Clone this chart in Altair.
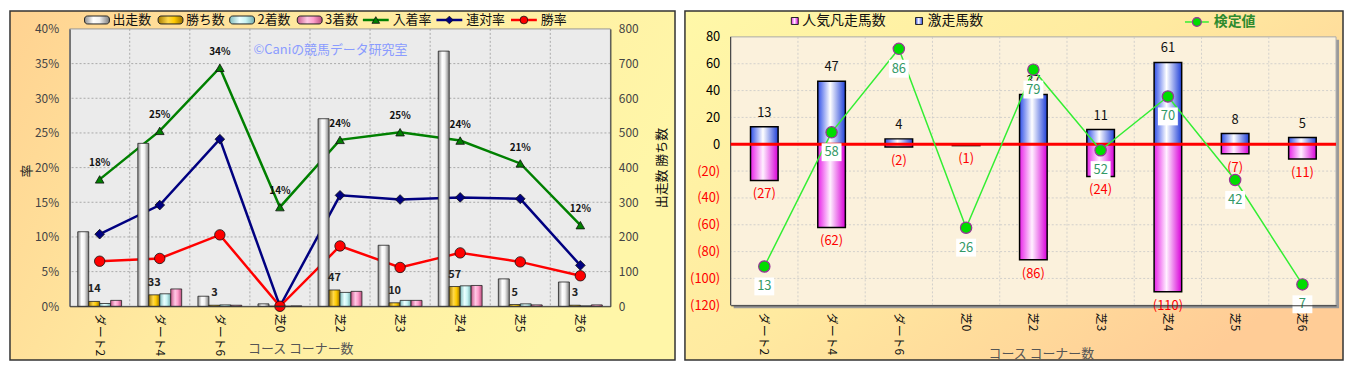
import altair as alt
import pandas as pd

FONT = "Noto Sans CJK JP"

# ---------------- data ----------------
cats = ["ダート2", "ダート4", "ダート6", "芝0", "芝2", "芝3", "芝4", "芝5", "芝6"]

count_series = ["出走数", "勝ち数", "2着数", "3着数"]
runners = [215, 470, 29, 7, 541, 176, 736, 79, 70]
wins = [14, 33, 3, 0, 47, 10, 57, 5, 3]
seconds = [8, 36, 4, 0, 40, 17, 59, 7, 1]
thirds = [17, 50, 3, 1, 43, 17, 60, 4, 4]

rate_series = ["入着率", "連対率", "勝率"]
place_rate = [18.3, 25.3, 34.4, 14.3, 24.0, 25.1, 23.9, 20.6, 11.7]
quinella_rate = [10.4, 14.6, 24.1, 0.0, 16.0, 15.4, 15.7, 15.5, 5.9]
win_rate = [6.5, 6.9, 10.3, 0.0, 8.7, 5.6, 7.7, 6.4, 4.4]

pct_ticks = [0, 5, 10, 15, 20, 25, 30, 35, 40]
cnt_ticks = [0, 100, 200, 300, 400, 500, 600, 700, 800]

right_series = ["人気凡走馬数", "激走馬数", "検定値"]
flop = [-27, -62, -2, -1, -86, -24, -110, -7, -11]
surge = [13, 47, 4, 0, 37, 11, 61, 8, 5]
test_val = [13, 58, 86, 26, 79, 52, 70, 42, 7]
right_ticks = [-120, -100, -80, -60, -40, -20, 0, 20, 40, 60, 80]

watermark = "©Caniの競馬データ研究室"
x_title = "コース コーナー数"

# ---------------- layout / style ----------------
LW, LH = 544, 279
RW, RH = 609, 270
RTOP = 8                     # right plot starts 8px below the left one
RH2 = RH + RTOP
one = pd.DataFrame({"k": [0]})


def grad(stops, x2=1, y2=0):
    return alt.Gradient(gradient="linear",
                        stops=[alt.GradientStop(color=c, offset=o) for o, c in stops],
                        x1=0, y1=0, x2=x2, y2=y2)


def vrect(x, x2, y, y2, **mk):
    return alt.Chart(one).mark_rect(**mk).encode(
        x=alt.value(x), x2=alt.value(x2), y=alt.value(y), y2=alt.value(y2))


def vtext(x, y, s, **mk):
    return alt.Chart(one).mark_text(font=FONT, **mk).encode(
        x=alt.value(x), y=alt.value(y), text=alt.value(s))


bar_grads = {
    "出走数": grad([(0, "#8c8c8c"), (0.35, "#ffffff"), (0.6, "#f2f2f2"), (1, "#7c7c7c")]),
    "勝ち数": grad([(0, "#a67c00"), (0.4, "#ffd84a"), (0.65, "#ffcc00"), (1, "#9a7000")]),
    "2着数": grad([(0, "#7fbcbc"), (0.4, "#eaffff"), (0.65, "#c8f4f4"), (1, "#70aaaa")]),
    "3着数": grad([(0, "#c8588a"), (0.4, "#ffc8e4"), (0.65, "#ff9fcc"), (1, "#b84c7c")]),
}
blue_grad = grad([(0, "#3050e8"), (0.45, "#ffffff"), (1, "#2040d8")])
pink_grad = grad([(0, "#e820e8"), (0.45, "#fff0ff"), (1, "#d800d8")])

# ================= LEFT PANEL =================
xsL = alt.Scale(domain=cats, paddingInner=0.27, paddingOuter=0.135)
xaxL = alt.Axis(title=x_title, labelAngle=90, labelFont=FONT, labelFontSize=12,
                labelColor="#111", labelPadding=7, ticks=False, domainColor="#333",
                grid=False, titleFont=FONT, titleFontSize=13, titleFontWeight="normal",
                titleColor="#555", titleX=232, titleY=43, titleAlign="center",
                titleBaseline="middle", zindex=1)


def XL(**kw):
    return alt.X("cat:N", scale=xsL, axis=xaxL, **kw)


pct_scale = alt.Scale(domain=[0, 40], nice=False)
pct_axis = alt.Axis(values=pct_ticks, labelExpr="datum.value + '%'", orient="left",
                    labelFont=FONT, labelFontSize=12, labelColor="#444", labelPadding=11,
                    ticks=False, domainColor="#333", grid=False, title="率",
                    titleFont=FONT, titleFontSize=13, titleFontWeight="normal",
                    titleColor="#222", titleAngle=-90, titleX=-43, titleY=LH / 2 + 3,
                    titleAlign="center", titleBaseline="middle", zindex=1)
cnt_scale = alt.Scale(domain=[0, 800], nice=False)
cnt_axis = alt.Axis(values=cnt_ticks, orient="right", labelFont=FONT, labelFontSize=12,
                    labelColor="#444", labelPadding=8, ticks=False, domainColor="#333",
                    grid=False, title="出走数 勝ち数", titleFont=FONT, titleFontSize=13,
                    titleFontWeight="normal", titleColor="#111", titleAngle=-90,
                    titleX=51, titleY=LH / 2, titleAlign="center", titleBaseline="middle",
                    zindex=1)

bgL = vrect(-60, LW + 65, -18, LH + 54,
            fill=grad([(0, "#ffd291"), (0.45, "#ffeaa0"), (1, "#fff6a8")], x2=1, y2=0.3),
            stroke="#333", strokeWidth=1.5)
plotL = vrect(0, LW, 0, LH, fill="#ebebeb", stroke="#999", strokeWidth=1)
hgridL = alt.Chart(pd.DataFrame({"v": pct_ticks[1:-1]})).mark_rule(
    color="#9a9a9a", strokeDash=[2, 2], strokeWidth=0.8).encode(
    y=alt.Y("v:Q", scale=pct_scale, axis=pct_axis))
vgridL = alt.Chart(pd.DataFrame({"cat": cats[1:]})).mark_rule(
    color="#9a9a9a", strokeDash=[2, 2], strokeWidth=0.8, xOffset=-8.16).encode(
    x=XL(bandPosition=0))

# legend (left)
leg = []
bar_leg_x = [15, 89, 161, 229]
for name, lx in zip(count_series, bar_leg_x):
    leg.append(vrect(lx, lx + 25, -13, -5, fill=bar_grads[name], stroke="#222",
                     strokeWidth=1, cornerRadius=3))
    leg.append(vtext(lx + 28, -9, name, align="left", baseline="middle",
                     fontSize=13, color="#111"))
line_styles = {
    "入着率": dict(color="#008000", shape="triangle-up", size=60),
    "連対率": dict(color="#000080", shape="diamond", size=60),
    "勝率": dict(color="#ff0000", shape="circle", size=60),
}
line_leg_x = [295, 369, 444]
for name, lx in zip(rate_series, line_leg_x):
    st = line_styles[name]
    leg.append(alt.Chart(one).mark_rule(color=st["color"], strokeWidth=2.5).encode(
        x=alt.value(lx), x2=alt.value(lx + 26), y=alt.value(-9)))
    leg.append(alt.Chart(one).mark_point(shape=st["shape"], filled=True, fill=st["color"],
                                         stroke="#111", strokeWidth=0.8, size=st["size"],
                                         opacity=1).encode(
        x=alt.value(lx + 13), y=alt.value(-9)))
    leg.append(vtext(lx + 30, -9, name, align="left", baseline="middle",
                     fontSize=13, color="#111"))

wm = vtext(185, 21, watermark, align="left", baseline="middle", fontSize=13,
           color="#8a9bff")

childL1 = alt.layer(bgL, plotL, hgridL, vgridL, wm, *leg)

# lines (percent scale)
rate_df = pd.DataFrame({"cat": cats, "place": place_rate, "quin": quinella_rate,
                        "win": win_rate})
line_layers = []
for key, name in zip(["place", "quin", "win"], rate_series):
    st = line_styles[name]
    base = alt.Chart(rate_df).encode(x=XL(), y=alt.Y(f"{key}:Q", scale=pct_scale, axis=None))
    line_layers.append(base.mark_line(color=st["color"], strokeWidth=2.5))
    msize = {"入着率": 75, "連対率": 95, "勝率": 110}[name]
    line_layers.append(base.mark_point(shape=st["shape"], filled=True, fill=st["color"],
                                       stroke="#111", strokeWidth=0.8, size=msize,
                                       opacity=1))
place_lbl = alt.Chart(rate_df).transform_calculate(
    lbl="format(datum.place, '.0f') + '%'").mark_text(
    font=FONT, fontSize=10, fontWeight="bold", color="#111", dy=-16).encode(
    x=XL(), y=alt.Y("place:Q", scale=pct_scale, axis=None), text="lbl:N")
childL2 = alt.layer(*line_layers, place_lbl)

# bars (count scale)
cnt_long = pd.DataFrame({
    "cat": cats * 4,
    "series": sum([[s] * len(cats) for s in count_series], []),
    "count": runners + wins + seconds + thirds,
})
xoff = alt.XOffset("series:N", scale=alt.Scale(domain=count_series, paddingInner=0,
                                                paddingOuter=0))
bar_layers = []
for name in count_series:
    bar_layers.append(alt.Chart(cnt_long).transform_filter(
        alt.datum.series == name).mark_bar(fill=bar_grads[name], stroke="#222",
                                           strokeWidth=0.8).encode(
        x=XL(), xOffset=xoff, y=alt.Y("count:Q", scale=cnt_scale, axis=cnt_axis)))
win_lbl = alt.Chart(cnt_long).transform_filter(
    (alt.datum.series == "勝ち数") & (alt.datum.count > 0)).mark_text(
    font=FONT, fontSize=11, fontWeight="bold", color="#222", dy=-12).encode(
    x=XL(), xOffset=xoff, y=alt.Y("count:Q", scale=cnt_scale, axis=cnt_axis),
    text="count:Q")
childL3 = alt.layer(*bar_layers, win_lbl)

left = alt.layer(childL1, childL2, childL3).resolve_scale(y="independent").properties(
    width=LW, height=LH)

# ================= RIGHT PANEL =================
xsR = alt.Scale(domain=cats, paddingInner=0.59, paddingOuter=0.295)
xaxR = alt.Axis(title=x_title, labelAngle=90, labelFont=FONT, labelFontSize=12,
                labelColor="#111", labelPadding=7, ticks=False, domainColor="#333",
                grid=False, titleFont=FONT, titleFontSize=13, titleFontWeight="normal",
                titleColor="#555", titleX=312, titleY=49, titleAlign="center",
                titleBaseline="middle", zindex=1)


def XR(**kw):
    return alt.X("cat:N", scale=xsR, axis=xaxR, **kw)


# the group is RTOP px taller than the plot: extend the domains by that many pixels
main_top = 80 + RTOP * (80 - (-120)) / RH
main_scale = alt.Scale(domain=[-120, main_top], nice=False, zero=False)
main_axis = alt.Axis(values=right_ticks,
                     labelExpr="datum.value < 0 ? '(' + (-datum.value) + ')' : datum.label",
                     labelColor={"condition": {"test": "datum.value < 0", "value": "#ff0000"},
                                 "value": "#000000"},
                     labelFont=FONT, labelFontSize=13, labelPadding=11, ticks=False,
                     domain=False, grid=False, title=None, zindex=1)
test_top = 90 + RTOP * 90 / RH
test_scale = alt.Scale(domain=[0, test_top], nice=False, zero=False)

bgR = vrect(-46, RW + 7, -26 + RTOP, RH2 + 55,
            fill=grad([(0, "#fff8a8"), (0.5, "#ffeaa0"), (1, "#ffcc96")], x2=1, y2=0.7),
            stroke="#333", strokeWidth=1.5)
shadowR = vrect(3, RW + 3, RTOP + 3, RH2 + 3, fill="#9a9a9a")
plotR = vrect(0, RW, RTOP, RH2, fill="#fbf1dc", stroke="#aaa", strokeWidth=1)
ydomR = alt.Chart(one).mark_rule(color="#333", strokeWidth=1).encode(
    x=alt.value(0), y=alt.value(RTOP), y2=alt.value(RH2))
hgridR = alt.Chart(pd.DataFrame({"v": right_ticks[1:-1]})).mark_rule(
    color="#c8c8c8", strokeDash=[2, 2], strokeWidth=0.8).encode(
    y=alt.Y("v:Q", scale=main_scale, axis=main_axis))
vgridR = alt.Chart(pd.DataFrame({"cat": cats[1:]})).mark_rule(
    color="#c8c8c8", strokeDash=[2, 2], strokeWidth=0.8, xOffset=-19.96).encode(
    x=XR(bandPosition=0), y=alt.value(RTOP), y2=alt.value(RH2))

rdf = pd.DataFrame({"cat": cats, "flop": flop, "surge": surge, "test": test_val})
flop_bar = alt.Chart(rdf).mark_bar(fill=pink_grad, stroke="#000", strokeWidth=1.5).encode(
    x=XR(), y=alt.Y("flop:Q", scale=main_scale, axis=main_axis), y2=alt.datum(0))
surge_bar = alt.Chart(rdf).mark_bar(fill=blue_grad, stroke="#000", strokeWidth=1.5).encode(
    x=XR(), y=alt.Y("surge:Q", scale=main_scale, axis=main_axis), y2=alt.datum(0))
zero_rule = alt.Chart(one).mark_rule(color="#ff0000", strokeWidth=3).encode(
    y=alt.Y("z:Q", scale=main_scale, axis=main_axis)).transform_calculate(z="0")
flop_lbl = alt.Chart(rdf).transform_calculate(
    lbl="'(' + (-datum.flop) + ')'").mark_text(
    font=FONT, fontSize=13, color="#ff0000", dy=14).encode(
    x=XR(), y=alt.Y("flop:Q", scale=main_scale, axis=main_axis), text="lbl:N")
surge_lbl = alt.Chart(rdf).transform_filter(alt.datum.surge > 0).mark_text(
    font=FONT, fontSize=13, color="#111", dy=-14).encode(
    x=XR(), y=alt.Y("surge:Q", scale=main_scale, axis=main_axis), text="surge:Q")

ly = -16 + RTOP
legR = [
    vrect(61, 68, ly - 3.5, ly + 3.5, fill=pink_grad, stroke="#222", strokeWidth=1),
    vtext(72, ly, right_series[0], align="left", baseline="middle", fontSize=14,
          color="#111"),
    vrect(186, 193, ly - 3.5, ly + 3.5, fill=blue_grad, stroke="#222", strokeWidth=1),
    vtext(198, ly, right_series[1], align="left", baseline="middle", fontSize=14,
          color="#111"),
    alt.Chart(one).mark_rule(color="#33ee33", strokeWidth=1.5).encode(
        x=alt.value(457), x2=alt.value(481), y=alt.value(ly + 1)),
    alt.Chart(one).mark_point(shape="circle", filled=True, fill="#00dd00",
                              stroke="#993399", strokeWidth=1.2, size=80,
                              opacity=1).encode(x=alt.value(469), y=alt.value(ly + 1)),
    vtext(486, ly + 1, right_series[2], align="left", baseline="middle", fontSize=14,
          fontWeight="bold", color="#2e8b2e"),
]

childR1 = alt.layer(bgR, shadowR, plotR, hgridR, vgridR, ydomR, flop_bar, surge_bar,
                    zero_rule, flop_lbl, surge_lbl, *legR)

tbase = alt.Chart(rdf).encode(x=XR(), y=alt.Y("test:Q", scale=test_scale, axis=None))
t_line = tbase.mark_line(color="#33ee33", strokeWidth=1.5)
t_pts = tbase.mark_point(shape="circle", filled=True, fill="#00dd00", stroke="#993399",
                         strokeWidth=1.2, size=130, opacity=1)
t_box = tbase.mark_point(shape="M -1 -0.9 L 1 -0.9 L 1 0.9 L -1 0.9 Z", filled=True,
                         fill="#ffffff", strokeWidth=0, size=400, opacity=1, yOffset=20)
t_lbl = tbase.mark_text(font=FONT, fontSize=13, color="#339966", dy=20).encode(
    text="test:Q")
childR2 = alt.layer(t_line, t_pts, t_box, t_lbl)

right = alt.layer(childR1, childR2).resolve_scale(y="independent").properties(
    width=RW, height=RH2)

chart = alt.hconcat(left, right, spacing=6).properties(
    padding=0, background="#ffffff").configure_view(stroke=None).configure(font=FONT)

chart.save("out.html", embed_options={"renderer": "svg", "actions": False})
